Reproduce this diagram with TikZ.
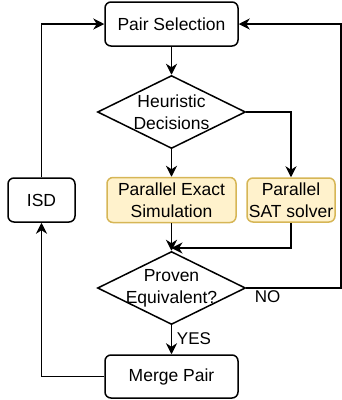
\documentclass[tikz,border=0pt]{standalone}
\usepackage{fontspec}
\setmainfont{Liberation Sans}
\usetikzlibrary{arrows.meta,shapes.geometric}
\definecolor{yfill}{HTML}{FFF2CC}
\definecolor{ydraw}{HTML}{D6B656}
\begin{document}
\begin{tikzpicture}[x=1pt,y=-1pt,
  every node/.style={font=\fontsize{17.5}{22}\selectfont, align=center, inner sep=0pt},
  box/.style={draw, rounded corners=6pt, line width=1.5pt},
  ybox/.style={box, draw=ydraw, fill=yfill},
  dia/.style={draw, diamond, line width=1.5pt, minimum width=148pt, minimum height=73pt},
  arr/.style={line width=1.5pt, -{Stealth[length=11pt,width=11pt,inset=3.5pt]}},
  lbl/.style={font=\fontsize{17}{20}\selectfont}
]
\useasboundingbox (0,0) rectangle (342,400);
\node[box, minimum width=133pt, minimum height=44pt] (ps) at (171.5,24) {Pair Selection};
\node[dia, label={[align=center, font=\fontsize{17.5}{22}\selectfont]center:Heuristic\\Decisions}] (heur) at (171.5,112) {};
\node[ybox, minimum width=129pt, minimum height=45pt] (exact) at (171.5,200) {Parallel Exact\\Simulation};
\node[ybox, minimum width=88pt, minimum height=44pt] (sat) at (291,200) {Parallel\\SAT solver};
\node[box, minimum width=67pt, minimum height=44pt] (isd) at (41.5,200) {ISD};
\node[dia, label={[align=center, font=\fontsize{17.5}{22}\selectfont]center:Proven\\Equivalent?}] (prov) at (171.5,288) {};
\node[box, minimum width=133pt, minimum height=43pt] (merge) at (171.5,376.5) {Merge Pair};
\coordinate (j) at (171.5,248);
\coordinate (r) at (341,288);
\draw[arr] (ps.south) -- (heur.north);
\draw[arr] (heur.east) -| (sat.north);
\draw[arr] (heur.south) -- (exact.north);
\draw[arr] (exact.south) -- (prov.north);
\draw[arr] (sat.south) |- (j);
\draw[arr] (prov.east) -- (r) |- (ps.east);
\draw[arr] (prov.south) -- (merge.north);
\draw[arr] (merge.west) -| (isd.south);
\draw[arr] (isd.north) |- (ps.west);
\node[lbl] (no) at (267.5,297) {NO};
\node[lbl] (yes) at (194,339) {YES};
\end{tikzpicture}
\end{document}
